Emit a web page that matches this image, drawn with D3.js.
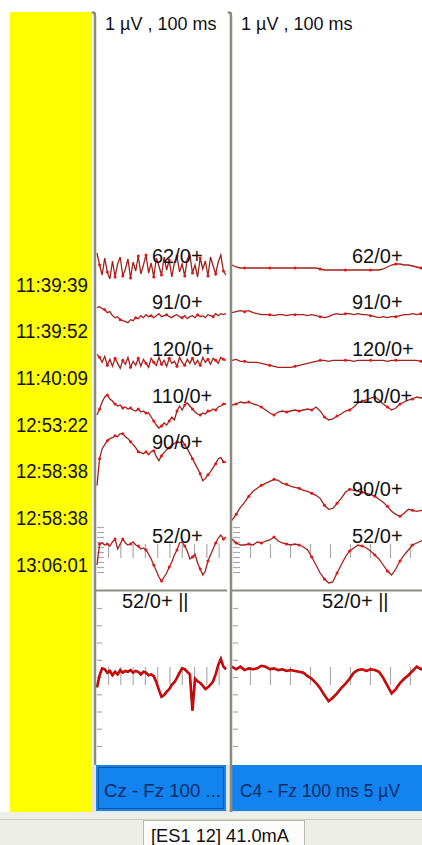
<!DOCTYPE html>
<html>
<head>
<meta charset="utf-8">
<script src="https://cdn.jsdelivr.net/npm/d3@7"></script>
<style>
body { margin: 0; background: #fff; overflow: hidden; }
text { font-family: "Liberation Sans", Arial, sans-serif; fill: #111; }
</style>
</head>
<body>
<script>
// sweep sampling (ms)
var sampleStepMs = 2.1, firstSampleMs = -9;

var rowTimes = ["11:39:39", "11:39:52", "11:40:09", "12:53:22", "12:58:38", "12:58:38", "13:06:01"];
var traceNames = ["62/0+", "91/0+", "120/0+", "110/0+", "90/0+", "52/0+"];
var czRows = [0, 1, 2, 3, 4, 6];
var c4Rows = [0, 1, 2, 3, 5, 6];
var avgName = "52/0+ ||";
var headerText = "1 \u00b5V , 100 ms";
var panelNames = ["Cz - Fz 100 ...", "C4 - Fz 100 ms 5 \u00b5V"];
var statusText = "[ES1 12] 41.0mA";
var timeTicks = [0, 10, 20, 30, 40, 50, 60, 70, 80, 90];
var rowTicks = [-2.5, -2, -1.5, -1, -0.5, 0, 0.5, 1, 1.5, 2];
var avgTicks = [-8, -6, -4, -2, 0, 2, 4, 6, 8];

// Cz - Fz sweeps (uV)
var cz62 = [1.4, 0.2, -0.8, 0.9, -0.5, -1.2, 0.6, -1.0, 0.3, 1.0,
	-0.9, -0.2, 0.8, -1.1, 0.5, -0.4, 1.1, -0.7, 0.2, 1.2,
	-0.6, 0.4, -1.0, 0.9, 0.1, -0.8, 1.0, -0.3, 0.7, -1.0,
	0.4, 1.1, -0.5, 0.3, -0.9, 0.8, 1.2, -0.6, 0.2, -1.0,
	0.9, -0.2, 0.6, -0.9, 1.0, 0.1, -0.7, 0.5, 1.2, -0.4, -0.8];
var cz91 = [0.6, 0.7, 0.5, 0.4, 0.1, 0.2, -0.2, -0.4, -0.3, -0.6,
	-0.7, -0.8, -0.9, -0.6, -0.7, -0.4, -0.5, -0.2, -0.4, -0.1,
	-0.3, -0.2, -0.4, -0.2, 0.0, -0.3, -0.2, -0.1, -0.3, -0.4,
	-0.2, -0.1, -0.3, -0.4, -0.2, -0.5, -0.3, -0.2, -0.4, -0.1,
	-0.3, -0.2, -0.4, -0.1, -0.2, -0.3, 0.0, -0.2, 0.0, -0.1, 0.0];
var cz120 = [0.6, 0.3, -0.2, 0.4, -0.5, 0.1, -0.6, 0.2, -0.3, -0.8,
	0.0, -0.4, 0.3, -0.7, -0.1, -0.5, 0.2, -0.6, 0.1, -0.3,
	-0.7, 0.2, -0.2, -0.5, 0.3, -0.4, 0.0, -0.6, 0.2, -0.3,
	-0.1, -0.6, 0.3, -0.2, -0.5, 0.1, -0.3, 0.2, -0.4, 0.0,
	-0.5, 0.3, -0.2, 0.1, -0.4, 0.2, 0.0, -0.3, 0.3, 0.1, 0.0];
var cz110 = [-0.8, -0.2, 0.5, 1.0, 1.2, 0.8, 0.6, 0.3, 0.1, 0.2,
	-0.1, 0.0, -0.2, -0.1, -0.3, -0.4, -0.2, -0.5, -0.4, -0.6,
	-0.6, -1.0, -1.4, -1.8, -2.1, -1.9, -1.6, -1.8, -1.4, -1.0,
	-1.3, -0.4, 0.1, -0.3, 0.2, 0.4, 0.1, -0.2, -0.5, -0.7,
	-0.8, -0.6, -0.7, -0.4, -0.4, -0.2, -0.3, 0.0, 0.1, 0.3, 0.3];
var cz90 = [-3.2, -0.5, 0.5, 0.9, 1.3, 1.5, 1.6, 1.8, 1.7, 2.0,
	2.0, 1.7, 1.5, 1.2, 0.9, 0.6, 0.2, 0.1, 0.0, 0.2,
	-0.1, 0.2, 0.3, -0.3, -0.7, -0.2, 0.1, 0.4, 0.6, 0.9,
	1.0, 1.2, 1.1, 1.3, 0.9, 0.5, 0.0, -0.5, -1.0, -1.5,
	-2.0, -2.7, -2.5, -2.1, -1.8, -1.4, -1.0, -0.5, -0.4, -0.8, -0.9];
var cz52 = [-1.8, 0.3, 0.4, 0.2, 0.3, 0.1, 0.5, 0.8, -0.2, 0.3,
	0.8, 0.4, 0.2, 0.3, 0.5, 0.2, 0.1, -0.2, -0.1, -0.3,
	-0.7, -1.2, -1.8, -2.4, -3.0, -3.4, -3.0, -2.6, -2.0, -1.5,
	-0.8, -0.3, 0.4, 0.5, 0.1, -0.4, -1.2, -1.0, -0.7, -1.6,
	-2.2, -2.8, -2.4, -1.4, -0.8, -0.2, 0.4, 0.9, 1.2, 0.8, 1.0];
var czAvg = [-1.2, 0.2, 1.0, 0.9, 0.5, 0.7, 0.2, 0.6, 0.3, 0.8,
	0.5, 0.7, 0.6, 0.8, 0.5, 0.7, 0.6, 0.3, 0.6, 0.5,
	0.2, 0.3, 0.1, -0.6, -1.5, -2.3, -2.1, -1.7, -1.4, -0.9,
	-0.6, -0.1, 0.5, 1.0, 0.9, 0.6, 0.3, -3.9, -0.2, -0.5,
	-0.7, -1.0, -1.4, -1.2, -0.9, -0.5, 0.3, 1.4, 2.1, 1.2, 0.9];

// C4 - Fz sweeps (uV)
var c4_62 = [0.2, 0.0, -0.1, -0.1, -0.1, -0.1, -0.1, -0.1, -0.1, -0.1,
	-0.1, -0.1, -0.1, -0.1, -0.1, -0.1, -0.1, -0.1, -0.1, -0.1,
	-0.1, -0.2, -0.3, -0.3, -0.3, -0.3, -0.3, -0.3, -0.3, -0.3,
	-0.3, -0.3, -0.3, -0.3, -0.3, -0.3, -0.2, 0.0, 0.2, 0.3,
	0.3, 0.2, 0.2, 0.1, 0.0, -0.1, -0.1, -0.1, -0.1, -0.1, -0.1];
var c4_91 = [0.1, 0.2, 0.3, 0.2, 0.3, 0.1, 0.0, -0.1, -0.1, -0.1,
	-0.2, -0.1, -0.1, -0.2, -0.1, -0.1, -0.1, -0.1, -0.2, -0.1,
	-0.2, -0.3, -0.4, -0.3, -0.1, 0.0, -0.1, 0.0, 0.0, -0.1,
	0.0, -0.1, -0.1, -0.2, -0.3, -0.4, -0.3, -0.4, -0.3, -0.3,
	-0.2, -0.1, -0.1, 0.0, -0.1, 0.0, 0.0, 0.0, 0.0, 0.0, 0.0];
var c4_120 = [0.0, 0.1, -0.1, -0.1, -0.2, -0.2, -0.2, -0.3, -0.4, -0.5,
	-0.6, -0.7, -0.7, -0.7, -0.7, -0.6, -0.5, -0.4, -0.3, -0.2,
	-0.1, 0.0, 0.0, -0.1, 0.0, 0.0, 0.0, 0.0, 0.0, -0.1,
	0.0, 0.0, 0.0, 0.0, 0.0, 0.0, 0.0, -0.1, 0.0, 0.0,
	0.0, 0.0, 0.0, 0.0, 0.0, -0.1, 0.0, 0.0, 0.0, 0.0, 0.0];
var c4_110 = [0.2, 0.3, 0.5, 0.4, 0.5, 0.3, 0.2, 0.0, -0.3, -0.6,
	-0.8, -0.5, -0.4, -0.5, -0.4, -0.3, -0.4, -0.3, -0.2, -0.3,
	0.0, -0.4, -1.0, -1.3, -1.2, -0.9, -0.7, -0.4, -0.3, 0.0,
	0.4, 0.6, 0.7, 0.9, 1.0, 0.7, 0.3, 0.0, -0.3, -0.1,
	0.3, 0.5, 0.7, 0.8, 1.0, 0.9, 1.0, 0.9, 1.0, 0.9, 1.0];
var c4_90 = [-2.0, -1.4, -0.7, -0.2, 0.4, 0.9, 1.2, 1.5, 1.7, 1.9,
	2.1, 2.0, 1.7, 1.6, 1.4, 1.3, 1.2, 1.0, 0.9, 0.7,
	0.5, 0.2, -0.5, -0.9, -0.8, -0.3, 0.2, 0.8, 1.1, 1.0,
	0.9, 0.8, 0.7, 0.6, 0.4, 0.1, -0.2, -0.6, -1.1, -1.4,
	-1.6, -1.3, -0.9, -1.0, -1.1, -1.0, -1.1, -1.0, -1.0, -1.1, -1.0];
var c4_52 = [0.8, 0.4, 0.2, 0.2, 0.3, 0.2, 0.5, 0.4, 0.6, 0.7,
	1.0, 0.6, 0.4, 0.3, 0.2, 0.3, 0.2, 0.0, -0.3, -1.0,
	-1.8, -2.6, -3.2, -3.6, -3.5, -2.6, -1.8, -1.0, -0.4, -0.1,
	0.2, 0.1, -0.1, -0.4, -0.8, -1.2, -1.8, -2.4, -2.8, -2.2,
	-1.4, -0.8, -0.3, 0.2, 0.4, 0.6, 0.8, 0.7, 0.8, 0.9, 0.8];
var c4Avg = [1.2, 0.9, 1.2, 0.8, 1.0, 0.9, 1.0, 1.3, 1.2, 0.9,
	1.0, 0.8, 0.9, 0.7, 0.8, 0.7, 0.6, 0.5, 0.1, -0.2,
	-0.7, -1.3, -2.1, -2.8, -2.4, -1.9, -1.3, -0.8, -0.2, 0.5,
	0.8, 0.9, 0.7, 0.9, 0.8, 0.6, -0.1, -1.0, -1.9, -1.4,
	-0.7, -0.2, 0.2, 0.7, 1.2, 0.9, 1.2, 1.0, 1.2, 1.0, 1.2];

function translate(x, y)
{
	return "translate(" + x + "," + y + ")";
}

function sampleTime(i)
{
	return firstSampleMs + i * sampleStepMs;
}

var svg = d3.select("body").append("svg")
	.attr("width", 422)
	.attr("height", 845);

var row = d3.scalePoint().domain(d3.range(7)).range([267, 547]);
var amp = d3.scaleLinear().domain([0, 1]).range([0, -10]);
var yAvg = d3.scaleLinear().domain([-8, 8]).range([746, 608]);
var xCz = d3.scaleLinear().domain([-9, 96]).range([97, 226]);
var xC4 = d3.scaleLinear().domain([-9, 96]).range([232, 442]);

// window chrome
svg.append("rect").attr("x", 0).attr("y", 812).attr("width", 422).attr("height", 33).attr("fill", "#eeeee8");
svg.append("rect").attr("x", 92).attr("y", 765).attr("width", 330).attr("height", 47).attr("fill", "#e6e5dc");
svg.append("line").attr("x1", 0).attr("x2", 422).attr("y1", 819.5).attr("y2", 819.5).attr("stroke", "#cfcfc6");
svg.append("rect").attr("x", 10).attr("y", 12).attr("width", 82).attr("height", 800).attr("fill", "#ffff00");

svg.append("g").selectAll("text")
	.data(rowTimes)
	.enter().append("text")
		.attr("x", 16)
		.attr("y", function(d, i){ return row(i) + 24.5; })
		.attr("font-size", 20)
		.attr("textLength", 72)
		.attr("lengthAdjust", "spacingAndGlyphs")
		.text(function(d){ return d; });

var panels = [
	{x: xCz, traces: [cz62, cz91, cz120, cz110, cz90, cz52], rows: czRows, avg: czAvg,
		left: 96, right: 227, labelX: 152, avgLabelX: 122, headerX: 105,
		name: panelNames[0], nameLen: 117, ticks: timeTicks, dense: [true, false, true, true, true, true]},
	{x: xC4, traces: [c4_62, c4_91, c4_120, c4_110, c4_90, c4_52], rows: c4Rows, avg: c4Avg,
		left: 232, right: 422, labelX: 352, avgLabelX: 322, headerX: 241,
		name: panelNames[1], nameLen: 160, ticks: timeTicks.slice(0, 9), dense: [false, false, false, true, true, true]}
];

function cleanAxis(sel)
{
	sel.select(".domain").remove();
	sel.selectAll("line").attr("stroke", "#aaaaaa").attr("stroke-width", 1.2);
}

panels.forEach(function(p, pi){
	var g = svg.append("g");
	var clipId = "clip" + pi;
	svg.append("clipPath").attr("id", clipId)
		.append("rect").attr("x", p.left).attr("y", 0).attr("width", p.right - p.left).attr("height", 765);

	g.append("text")
		.attr("x", p.headerX)
		.attr("y", 30)
		.attr("font-size", 18)
		.text(headerText);

	// grid ticks on the last row
	var r6 = row(6);
	var yRow = d3.scaleLinear().domain([-1, 1]).range([r6 + 10, r6 - 10]);
	g.append("g")
		.attr("transform", translate(0, r6 - 3))
		.call(d3.axisBottom(p.x).tickValues(p.ticks).tickSize(14).tickFormat(""))
		.call(cleanAxis);
	g.append("g")
		.attr("transform", translate(p.left + 1, 0))
		.call(d3.axisRight(yRow).tickValues(rowTicks).tickSize(7).tickFormat(""))
		.call(cleanAxis);

	// averaged trace axes
	g.append("g")
		.attr("transform", translate(0, 667))
		.call(d3.axisBottom(p.x).tickValues(p.ticks).tickSize(18).tickFormat(""))
		.call(cleanAxis);
	g.append("g")
		.attr("transform", translate(p.left + 1, 0))
		.call(d3.axisRight(yAvg).tickValues(avgTicks).tickSize(5).tickFormat(""))
		.call(cleanAxis);

	var traces = g.append("g").attr("clip-path", "url(#" + clipId + ")");
	p.traces.forEach(function(vals, k){
		var base = row(p.rows[k]);
		var line = d3.line()
			.x(function(d, i){ return p.x(sampleTime(i)); })
			.y(function(d){ return base + amp(d); });
		traces.append("path")
			.attr("d", line(vals))
			.attr("fill", "none")
			.attr("stroke", "#a3201c")
			.attr("stroke-width", 1.3);
		traces.selectAll(null)
			.data(vals.filter(function(d, i){ return p.dense[k] ? i % 3 === 1 : i % 6 === 3; }))
			.enter().append("circle")
				.attr("cx", function(d, i){ return p.x(sampleTime(p.dense[k] ? i * 3 + 1 : i * 6 + 3)); })
				.attr("cy", function(d){ return base + amp(d); })
				.attr("r", 1.5)
				.attr("fill", "#ee1111");
	});

	var avgLine = d3.line()
		.x(function(d, i){ return p.x(sampleTime(i)); })
		.y(function(d){ return yAvg(d); });
	traces.append("path")
		.attr("d", avgLine(p.avg))
		.attr("fill", "none")
		.attr("stroke", "#8a1010")
		.attr("stroke-width", 2.6);
	traces.append("path")
		.attr("d", avgLine(p.avg))
		.attr("fill", "none")
		.attr("stroke", "#ee0000")
		.attr("stroke-width", 1.4);

	g.selectAll(".lbl" + pi)
		.data(traceNames)
		.enter().append("text")
			.attr("x", p.labelX)
			.attr("y", function(d, k){ return row(p.rows[k]) - 4.5; })
			.attr("font-size", 20)
			.text(function(d){ return d; });

	g.append("text")
		.attr("x", p.avgLabelX)
		.attr("y", 608)
		.attr("font-size", 20)
		.text(avgName);

	// divider under the sweeps
	g.append("line")
		.attr("x1", p.left).attr("x2", p.right)
		.attr("y1", 590.5).attr("y2", 590.5)
		.attr("stroke", "#8c8c82").attr("stroke-width", 2.2);

	// channel bar
	g.append("rect")
		.attr("x", p.left).attr("y", 765)
		.attr("width", p.right - p.left - (pi === 0 ? 1 : 0)).attr("height", 46)
		.attr("fill", "#1383ef");
	if(pi === 0)
	{
		g.append("rect")
			.attr("x", p.left + 2.5).attr("y", 767.5)
			.attr("width", p.right - p.left - 6).attr("height", 41)
			.attr("fill", "none")
			.attr("stroke", "#0b2456")
			.attr("stroke-dasharray", "1,1");
	}
	g.append("text")
		.attr("x", p.left + 8)
		.attr("y", 797)
		.attr("font-size", 18)
		.attr("textLength", p.nameLen)
		.attr("lengthAdjust", "spacingAndGlyphs")
		.style("fill", "#0c2a66")
		.text(p.name);
});

// panel borders
svg.append("path")
	.attr("d", "M92,13 Q95,11 95,16 L95,765")
	.attr("fill", "none").attr("stroke", "#8a8a80").attr("stroke-width", 2.5);
svg.append("path")
	.attr("d", "M228,13 Q231,11 231,16 L231,812")
	.attr("fill", "none").attr("stroke", "#8a8a80").attr("stroke-width", 2.5);

// status bar
svg.append("rect")
	.attr("x", 143.5).attr("y", 820.5).attr("width", 161).attr("height", 30)
	.attr("fill", "#fcfcfa").attr("stroke", "#b9b9b0");
svg.append("text")
	.attr("x", 151)
	.attr("y", 842)
	.attr("font-size", 18)
	.attr("textLength", 138)
	.attr("lengthAdjust", "spacingAndGlyphs")
	.text(statusText);
</script>
</body>
</html>
